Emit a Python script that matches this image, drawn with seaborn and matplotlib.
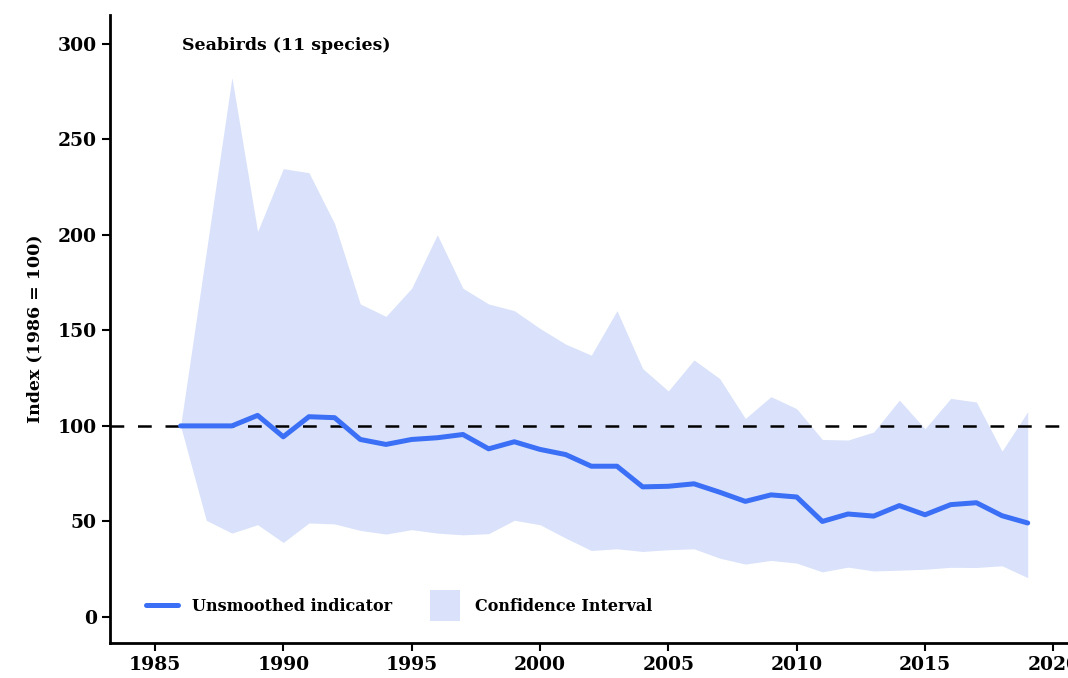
import matplotlib
matplotlib.use("Agg")
import matplotlib.pyplot as plt
import matplotlib.patches as mpatches
from matplotlib.legend_handler import HandlerPatch
import seaborn as sns
import pandas as pd

# Seabird population index, 1986 = 100
years = list(range(1986, 2020))
index_values = [100.0, 100.0, 100.0, 105.5, 94.3, 104.8, 104.3, 92.9, 90.3, 92.9,
                93.8, 95.5, 88.0, 91.7, 87.7, 85.0, 78.9, 78.9, 68.1, 68.4,
                69.7, 65.3, 60.5, 63.9, 62.8, 50.0, 53.9, 52.8, 58.3, 53.5,
                58.8, 59.8, 53.0, 49.2]
ci_upper = [100.0, 191.0, 282.3, 201.7, 234.6, 232.5, 205.8, 163.8, 157.3, 172.0,
            200.0, 172.0, 163.8, 160.3, 151.0, 142.8, 137.0, 160.3, 130.0, 118.3,
            134.5, 124.8, 103.9, 115.3, 109.0, 92.9, 92.6, 96.8, 113.5, 98.5,
            114.4, 112.5, 86.8, 107.4]
ci_lower = [100.0, 50.6, 43.9, 48.3, 39.0, 49.2, 48.7, 45.3, 43.4, 45.7,
            43.9, 43.0, 43.6, 50.6, 48.3, 41.3, 34.8, 35.7, 34.3, 35.2,
            35.7, 30.8, 27.7, 29.6, 28.2, 23.6, 26.1, 24.1, 24.5, 25.0,
            26.0, 25.9, 26.8, 20.6]
baseline = 100
x_ticks = [1985, 1990, 1995, 2000, 2005, 2010, 2015, 2020]
y_ticks = [0, 50, 100, 150, 200, 250, 300]
title_text = "Seabirds (11 species)"
y_label = "Index (1986 = 100)"
line_label = "Unsmoothed indicator"
ci_label = "Confidence Interval"

df = pd.DataFrame({"year": years, "index": index_values,
                   "upper": ci_upper, "lower": ci_lower})

sns.set_style("ticks")
plt.rcParams["font.family"] = ["DejaVu Serif"]
plt.rcParams["font.weight"] = "bold"
plt.rcParams["text.color"] = "black"
plt.rcParams["axes.labelcolor"] = "black"
plt.rcParams["xtick.color"] = "black"
plt.rcParams["ytick.color"] = "black"

LINE_BLUE = "#3b6ff6"
FILL_BLUE = "#d9e2fa"


def tall_swatch(legend, orig_handle, xdescent, ydescent, width, height, fontsize):
    # square-ish swatch, taller than the default legend patch
    extra = 7.4
    w = width * 0.94
    return mpatches.Rectangle((-xdescent, -ydescent - extra), w, height + 2 * extra)


fig = plt.figure(figsize=(10.68, 6.78), dpi=100)
ax = fig.add_axes([110 / 1068, 35 / 678, 958 / 1068, 628 / 678])

ax.fill_between(df["year"], df["lower"], df["upper"], color=FILL_BLUE,
                linewidth=0, zorder=1)
ax.axhline(baseline, color="black", linewidth=1.8, dashes=(5.5, 5.5), zorder=2)
sns.lineplot(data=df, x="year", y="index", ax=ax, color=LINE_BLUE,
             linewidth=3.6, label=line_label, zorder=3)

ax.set_xlim(1983.25, 2020.57)
ax.set_ylim(-13.6, 315)
ax.set_xticks(x_ticks)
ax.set_yticks(y_ticks)
ax.set_xlabel("")
ax.set_ylabel(y_label, fontsize=12.5, fontweight="bold", labelpad=10,
              color="black")
ax.tick_params(axis="both", labelsize=13.5, length=6, width=1.5, color="black",
               labelcolor="black")
for lbl in ax.get_xticklabels() + ax.get_yticklabels():
    lbl.set_fontweight("bold")

sns.despine(ax=ax)
for side in ("left", "bottom"):
    ax.spines[side].set_linewidth(2)
    ax.spines[side].set_color("black")

ax.text(0.075, 0.952, title_text, transform=ax.transAxes, ha="left",
        va="center", fontsize=12.5, fontweight="bold", color="black")

handles, labels = ax.get_legend_handles_labels()
line_handle = handles[labels.index(line_label)]
ci_handle = mpatches.Patch(facecolor=FILL_BLUE, edgecolor="none", linewidth=0)
leg = ax.legend([line_handle, ci_handle], [line_label, ci_label],
                loc="center left", bbox_to_anchor=(0.0313, 0.058), ncol=2,
                frameon=False, handlelength=2.0,
                handletextpad=0.85, columnspacing=2.35, borderaxespad=0,
                prop={"weight": "bold", "size": 11.5},
                handler_map={ci_handle: HandlerPatch(patch_func=tall_swatch)})
for t in leg.get_texts():
    t.set_color("black")

fig.savefig("out.png", dpi=100)
